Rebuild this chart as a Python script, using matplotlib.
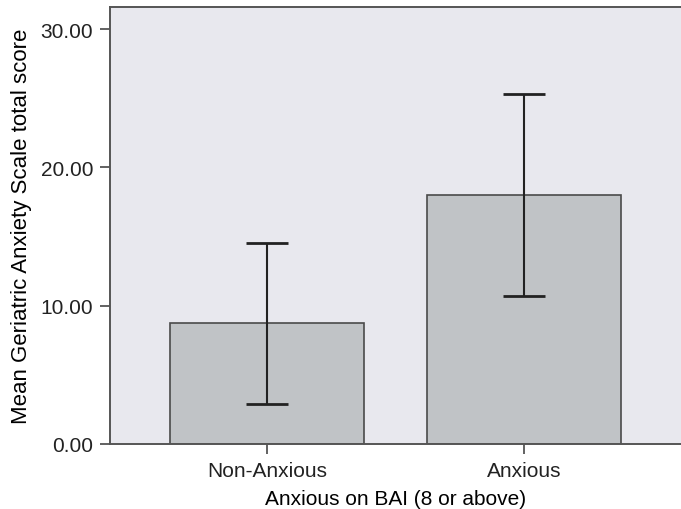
import matplotlib
matplotlib.use("Agg")
import matplotlib.pyplot as plt

plt.rcParams.update({
    "font.family": ["Liberation Sans", "DejaVu Sans"],
    "font.size": 15,
})

# data
groups = ["Non-Anxious", "Anxious"]
means = [8.74, 17.98]
err_low = [5.85, 7.30]
err_high = [5.77, 7.32]
y_ticks = [0, 10, 20, 30]

BG = "#e8e8ee"
BAR = "#c0c3c6"
EDGE = "#4a4a4a"

fig = plt.figure(figsize=(6.81, 5.10), dpi=100)
ax = fig.add_axes([0.1615, 0.1275, 0.838, 0.857])
ax.set_facecolor(BG)

x = range(len(groups))
ax.bar(x, means, width=0.755, color=BAR, edgecolor=EDGE, linewidth=1.2, zorder=2)
ax.errorbar(x, means, yerr=[err_low, err_high], fmt="none", ecolor="#222222",
            elinewidth=1.5, capsize=15, capthick=2, zorder=3)

ax.set_xlim(-0.61, 1.61)
ax.set_ylim(0, 31.6)
ax.set_yticks(y_ticks)
ax.set_yticklabels([f"{v:.2f}" for v in y_ticks])
ax.set_xticks(list(x))
ax.set_xticklabels(groups)
ax.set_xlabel("Anxious on BAI (8 or above)", labelpad=7)
ax.set_ylabel("Mean Geriatric Anxiety Scale total score", fontsize=16, labelpad=6)

ax.tick_params(axis="both", direction="out", length=7, width=1.3, color="#555555",
               labelcolor="#222222", pad=5)
for side in ("left", "bottom", "top"):
    ax.spines[side].set_color("#555555")
    ax.spines[side].set_linewidth(1.4)
ax.spines["right"].set_visible(False)

fig.savefig("out.png", dpi=100, facecolor="white")
